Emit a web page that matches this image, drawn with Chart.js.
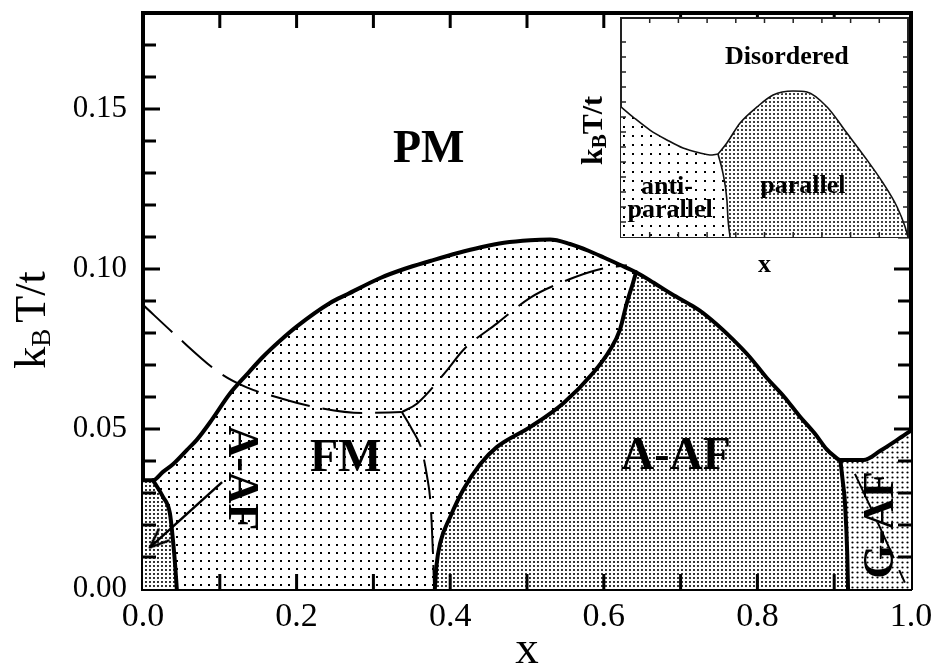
<!DOCTYPE html>
<html><head><meta charset="utf-8">
<script src="https://cdn.jsdelivr.net/npm/chart.js@4.4.1/dist/chart.umd.min.js"></script>
<style>
html,body{margin:0;padding:0;background:#fff;}
#wrap{position:relative;width:935px;height:669px;overflow:hidden;}
#main{position:absolute;left:0;top:0;}
#inset{position:absolute;left:560px;top:0;}
</style></head><body>
<div id="wrap">
<canvas id="main" width="935" height="669"></canvas>
<canvas id="inset" width="375" height="290"></canvas>
</div>
<script>
// ================= DATA (main phase diagram: x vs k_B T / t) =================
// PM phase boundary (upper envelope of ordered phases)
const pmX = [0, 0.013, 0.026, 0.039, 0.057, 0.07, 0.09, 0.113, 0.135, 0.156, 0.178, 0.2, 0.243, 0.266, 0.309, 0.34, 0.374, 0.41, 0.44, 0.47, 0.504, 0.53, 0.556, 0.58, 0.6, 0.62, 0.642, 0.665, 0.686, 0.708, 0.725, 0.748, 0.768, 0.79, 0.812, 0.835, 0.855, 0.875, 0.89, 0.9, 0.908, 0.938, 0.96, 0.982, 1.0];
const pmY = [0.034, 0.034, 0.0366, 0.039, 0.0434, 0.0466, 0.053, 0.061, 0.067, 0.0725, 0.0775, 0.082, 0.0893, 0.0921, 0.0972, 0.1, 0.1025, 0.105, 0.1068, 0.1082, 0.109, 0.1092, 0.1078, 0.1057, 0.1036, 0.1014, 0.099, 0.0957, 0.0925, 0.0895, 0.087, 0.0825, 0.078, 0.0725, 0.066, 0.06, 0.054, 0.0485, 0.0437, 0.0415, 0.0403, 0.0403, 0.0432, 0.0466, 0.0495];
// FM / A-AF boundary (from bottom up to the triple point)
const aafX = [0.38, 0.382, 0.387, 0.4, 0.417, 0.439, 0.461, 0.504, 0.547, 0.586, 0.608, 0.621, 0.63, 0.638, 0.642];
const aafY = [0, 0.007, 0.0144, 0.0225, 0.031, 0.039, 0.0444, 0.0506, 0.058, 0.0675, 0.0747, 0.081, 0.0894, 0.0956, 0.099];
// A-AF / G-AF boundary
const gafX = [0.908, 0.911, 0.914, 0.917, 0.918];
const gafY = [0.0403, 0.034, 0.027, 0.011, 0];
// small A-AF pocket near x = 0
const leftX = [0.013, 0.026, 0.035, 0.039, 0.042, 0.044];
const leftY = [0.034, 0.0288, 0.0237, 0.0153, 0.007, 0];
// dashed (metastable) lines
const dashAX = [0, 0.044, 0.1, 0.135, 0.178, 0.221, 0.286, 0.337];
const dashAY = [0.0888, 0.079, 0.0675, 0.063, 0.0597, 0.057, 0.055, 0.0553];
const dashBX = [0.337, 0.357, 0.396, 0.417, 0.461, 0.504, 0.547, 0.591, 0.63];
const dashBY = [0.0553, 0.058, 0.0684, 0.0747, 0.083, 0.091, 0.096, 0.0997, 0.1012];
const dashCX = [0.337, 0.35, 0.363, 0.37, 0.374, 0.376, 0.378, 0.379];
const dashCY = [0.0553, 0.05, 0.0434, 0.035, 0.028, 0.02, 0.008, 0];
const dashDX = [0.927, 0.96, 0.992];
const dashDY = [0.036, 0.019, 0.002];
// arrow pointing into the small A-AF pocket (tail -> tip)
const arrowX = [0.103, 0.009];
const arrowY = [0.0334, 0.013];
// region names
const regionNames = ['PM', 'FM', 'A-AF', 'A-AF', 'G-AF'];

// ================= DATA (inset) =================
const insDisX = [0, 0.042, 0.101, 0.16, 0.216, 0.275, 0.31, 0.338];
const insDisY = [0.0867, 0.080, 0.0713, 0.0647, 0.0593, 0.056, 0.0547, 0.0553];
const insDomeX = [0.338, 0.369, 0.415, 0.474, 0.53, 0.6, 0.648, 0.718, 0.787, 0.857, 0.913, 0.962, 0.99, 1.0];
const insDomeY = [0.0553, 0.0627, 0.076, 0.0867, 0.0947, 0.0973, 0.0967, 0.0867, 0.0693, 0.0514, 0.036, 0.02, 0.0067, 0];
const insBndX = [0.338, 0.355, 0.369, 0.373, 0.38];
const insBndY = [0.0553, 0.0427, 0.0247, 0.0114, 0];
const insetNames = ['Disordered', 'anti-', 'parallel', 'parallel'];

// ================= helpers =================
const pts = (xs, ys) => xs.map((x, i) => ({x: x, y: ys[i]}));
const FAM = '"Liberation Serif", "Times New Roman", serif';

function dots(step, size, round) {
  const c = document.createElement('canvas');
  c.width = step; c.height = step;
  const g = c.getContext('2d');
  g.fillStyle = '#fff'; g.fillRect(0, 0, step, step);
  g.fillStyle = '#000';
  if (round) { g.beginPath(); g.arc(step / 2, step / 2, size / 2, 0, 2 * Math.PI); g.fill(); }
  else g.fillRect(0, 0, size, size);
  return g.createPattern(c, 'repeat');
}
function arrowHead(len, halfDeg) {
  const S = Math.ceil(2 * len + 6);
  const c = document.createElement('canvas'); c.width = S; c.height = S;
  const g = c.getContext('2d');
  const h = halfDeg * Math.PI / 180, cx = S / 2, cy = S / 2;
  g.strokeStyle = '#000'; g.lineWidth = 2.5; g.lineCap = 'round'; g.lineJoin = 'round';
  g.beginPath();
  g.moveTo(cx - len * Math.sin(h), cy + len * Math.cos(h));
  g.lineTo(cx, cy);
  g.lineTo(cx + len * Math.sin(h), cy + len * Math.cos(h));
  g.stroke();
  return c;
}
const noPad = (s) => { s.paddingTop = 0; s.paddingBottom = 0; s.paddingLeft = 0; s.paddingRight = 0; };

const innerTicks = {
  id: 'innerTicks',
  afterDraw(chart, args, o) {
    const {ctx, chartArea: a} = chart;
    const xs = chart.scales.x, ys = chart.scales.y;
    ctx.save(); ctx.strokeStyle = o.color; ctx.lineWidth = o.width; ctx.lineCap = 'butt';
    ctx.beginPath();
    for (const t of xs.ticks) {
      const p = xs.getPixelForValue(t.value);
      if (p <= a.left + 2 || p >= a.right - 2) continue;
      ctx.moveTo(p, a.bottom); ctx.lineTo(p, a.bottom - o.xLen);
      ctx.moveTo(p, a.top); ctx.lineTo(p, a.top + o.xLen);
    }
    for (const t of ys.ticks) {
      const p = ys.getPixelForValue(t.value);
      if (p >= a.bottom - 2 || p <= a.top + 2) continue;
      const r = t.value / o.yMajorStep;
      const L = Math.abs(r - Math.round(r)) < 1e-6 ? o.yMajorLen : o.yLen;
      ctx.moveTo(a.left, p); ctx.lineTo(a.left + L, p);
      ctx.moveTo(a.right, p); ctx.lineTo(a.right - L, p);
    }
    ctx.stroke(); ctx.restore();
  }
};

const textLabels = {
  id: 'textLabels',
  afterDraw(chart, args, o) {
    const {ctx} = chart; const xs = chart.scales.x, ys = chart.scales.y;
    for (const L of o.items) {
      ctx.save();
      ctx.translate(xs.getPixelForValue(L.x), ys.getPixelForValue(L.y));
      ctx.rotate((L.rot || 0) * Math.PI / 180);
      ctx.font = 'bold ' + L.size + 'px ' + FAM;
      ctx.fillStyle = '#000'; ctx.textAlign = 'center'; ctx.textBaseline = 'middle';
      ctx.fillText(L.text, 0, 0);
      ctx.restore();
    }
  }
};

function drawKBT(ctx, cx, cy, size, weight, rest, gap, subScale, subShift) {
  const big = weight + ' ' + size + 'px ' + FAM;
  const small = weight + ' ' + Math.round(size * subScale) + 'px ' + FAM;
  ctx.save(); ctx.translate(cx, cy); ctx.rotate(-Math.PI / 2);
  ctx.fillStyle = '#000'; ctx.textBaseline = 'alphabetic'; ctx.textAlign = 'left';
  ctx.font = big; const wk = ctx.measureText('k').width; const wr = ctx.measureText(rest).width;
  ctx.font = small; const wb = ctx.measureText('B').width;
  let x = -(wk + wb + gap + wr) / 2;
  const base = size * 0.33;
  ctx.font = big; ctx.fillText('k', x, base); x += wk;
  ctx.font = small; ctx.fillText('B', x, base + size * subShift); x += wb + gap;
  ctx.font = big; ctx.fillText(rest, x, base);
  ctx.restore();
}

const mainYTitle = {
  id: 'mainYTitle',
  afterDraw(chart) {
    const a = chart.chartArea;
    drawKBT(chart.ctx, a.left - 113, 320, 44, 'normal', 'T/t', 6, 0.62, 0.12);
  }
};

// ================= main chart =================
const sparse = dots(8, 2, false), dense = dots(4, 2.1, true), medium = dots(5, 2.2, true);
const iJ = pmX.indexOf(aafX[aafX.length - 1]);
const iG = pmX.indexOf(gafX[0]);
const pmPts = pts(pmX, pmY);

const polyAAF = pts(aafX, aafY).concat(pmPts.slice(iJ + 1, iG + 1), pts(gafX, gafY).slice(1));
const polyGAF = pmPts.slice(iG).concat([{x: 1, y: 0}], pts(gafX, gafY).reverse());
const polyLeft = [{x: 0, y: 0}, pmPts[0]].concat(pts(leftX, leftY));
const polyFM = [{x: 0, y: 0}].concat(pmPts, [{x: 1, y: 0}]);

const poly = (data, pattern) => ({data, fill: 'shape', backgroundColor: pattern, borderWidth: 0, borderColor: 'transparent', pointRadius: 0, showLine: true, tension: 0});
const solid = (data) => ({data, fill: false, borderColor: '#000', borderWidth: 4, borderJoinStyle: 'round', borderCapStyle: 'round', pointRadius: 0, showLine: true, cubicInterpolationMode: 'monotone'});
const dashed = (data) => ({data, fill: false, borderColor: '#000', borderWidth: 2, borderDash: [40, 13], pointRadius: 0, showLine: true, cubicInterpolationMode: 'monotone'});

const head = arrowHead(20, 22);

// lines first (drawn last, on top); polygons at the end (drawn first, underneath)
new Chart(document.getElementById('main'), {
  type: 'scatter',
  data: {datasets: [
    {data: pts(arrowX, arrowY), fill: false, borderColor: '#000', borderWidth: 2.5, showLine: true,
     pointRadius: [0, 5], pointStyle: (c) => c.dataIndex === 1 ? head : false, pointRotation: 228},
    solid(pmPts),
    solid(pts(aafX, aafY)),
    solid(pts(gafX, gafY)),
    solid(pts(leftX, leftY)),
    dashed(pts(dashAX, dashAY)),
    dashed(pts(dashBX, dashBY)),
    dashed(pts(dashCX, dashCY)),
    dashed(pts(dashDX, dashDY)),
    poly(polyAAF, dense),
    poly(polyLeft, dense),
    poly(polyGAF, medium),
    poly(polyFM, sparse)
  ]},
  options: {
    responsive: false, animation: false, events: [],
    layout: {padding: {left: 0, right: 24, top: 13, bottom: 0}},
    plugins: {
      legend: {display: false}, tooltip: {enabled: false},
      innerTicks: {color: '#000', width: 3, xLen: 15, yLen: 13, yMajorLen: 17, yMajorStep: 0.05},
      textLabels: {items: [
        {text: regionNames[0], x: 0.372, y: 0.137, size: 46},
        {text: regionNames[1], x: 0.264, y: 0.0406, size: 46},
        {text: regionNames[2], x: 0.694, y: 0.0413, size: 46},
        {text: regionNames[3], x: 0.127, y: 0.0347, size: 44, rot: 90},
        {text: regionNames[4], x: 0.962, y: 0.02, size: 44, rot: -90}
      ]}
    },
    scales: {
      x: {type: 'linear', position: 'bottom', min: 0, max: 1,
          afterFit: (s) => { s.height = 80; noPad(s); },
          grid: {display: false, drawTicks: false},
          border: {display: true, width: 4, color: '#000'},
          ticks: {stepSize: 0.1, autoSkip: false, maxRotation: 0, padding: 8, color: '#000',
                  font: {family: FAM, size: 34},
                  callback: (v) => Math.abs(v * 5 - Math.round(v * 5)) < 1e-6 ? v.toFixed(1) : ''},
          title: {display: true, text: 'x', color: '#000', font: {family: FAM, size: 47, lineHeight: 0.8}, padding: {top: 0, bottom: 0}}},
      y: {type: 'linear', position: 'left', min: 0, max: 0.18,
          afterFit: (s) => { s.width = 143; noPad(s); },
          grid: {display: false, drawTicks: false},
          border: {display: true, width: 4, color: '#000'},
          ticks: {stepSize: 0.01, autoSkip: false, padding: 16, color: '#000',
                  font: {family: FAM, size: 31},
                  callback: (v) => Math.abs(v * 20 - Math.round(v * 20)) < 1e-6 ? v.toFixed(2) : ''}},
      x2: {type: 'linear', position: 'top', min: 0, max: 1, afterFit: (s) => { s.height = 0; noPad(s); },
           grid: {display: false, drawTicks: false}, ticks: {display: false},
           border: {display: true, width: 4, color: '#000'}},
      y2: {type: 'linear', position: 'right', min: 0, max: 0.18, afterFit: (s) => { s.width = 0; noPad(s); },
           grid: {display: false, drawTicks: false}, ticks: {display: false},
           border: {display: true, width: 4, color: '#000'}}
    }
  },
  plugins: [innerTicks, textLabels, mainYTitle]
});

// ================= inset chart =================
const insetBg = {
  id: 'insetBg',
  beforeDraw(chart) {
    const a = chart.chartArea, ctx = chart.ctx;
    ctx.save(); ctx.fillStyle = '#fff'; ctx.fillRect(a.left, a.top, a.right - a.left, a.bottom - a.top); ctx.restore();
  }
};
const insetTitles = {
  id: 'insetTitles',
  afterDraw(chart) {
    const a = chart.chartArea, ctx = chart.ctx;
    ctx.save(); ctx.font = 'bold 26px ' + FAM; ctx.fillStyle = '#000';
    ctx.textAlign = 'center'; ctx.textBaseline = 'middle';
    ctx.fillText('x', (a.left + a.right) / 2, a.bottom + 28);
    ctx.restore();
    drawKBT(ctx, a.left - 29, (a.top + a.bottom) / 2 + 3, 30, 'bold', 'T/t', 0, 0.7, 0.14);
  }
};
const iPar = pts(insBndX, insBndY).reverse().concat(pts(insDomeX, insDomeY).slice(1));
const iAnti = [{x: 0, y: 0}].concat(pts(insDisX, insDisY), pts(insBndX, insBndY).slice(1));
const thin = (data) => ({data, fill: false, borderColor: '#111', borderWidth: 1.6, pointRadius: 0, showLine: true, cubicInterpolationMode: 'monotone'});
const insSparse = dots(9, 2, false), insDense = dots(4, 2, true);

new Chart(document.getElementById('inset'), {
  type: 'scatter',
  data: {datasets: [
    thin(pts(insDisX, insDisY)),
    thin(pts(insDomeX, insDomeY)),
    thin(pts(insBndX, insBndY)),
    poly(iPar, insDense),
    poly(iAnti, insSparse)
  ]},
  options: {
    responsive: false, animation: false, events: [],
    layout: {padding: {left: 61, right: 27, top: 18, bottom: 53}},
    plugins: {
      legend: {display: false}, tooltip: {enabled: false},
      innerTicks: {color: '#222', width: 1.5, xLen: 5, yLen: 5, yMajorLen: 5, yMajorStep: 0.01},
      textLabels: {items: [
        {text: insetNames[0], x: 0.578, y: 0.12, size: 26},
        {text: insetNames[1], x: 0.16, y: 0.033, size: 26},
        {text: insetNames[2], x: 0.171, y: 0.0175, size: 26},
        {text: insetNames[3], x: 0.634, y: 0.034, size: 26}
      ]}
    },
    scales: {
      x: {type: 'linear', position: 'bottom', min: 0, max: 1, afterFit: (s) => { s.height = 0; noPad(s); },
          grid: {display: false, drawTicks: false}, ticks: {display: false, stepSize: 0.1, autoSkip: false},
          border: {display: true, width: 2, color: '#222'}},
      y: {type: 'linear', position: 'left', min: 0, max: 0.146, afterFit: (s) => { s.width = 0; noPad(s); },
          grid: {display: false, drawTicks: false}, ticks: {display: false, stepSize: 0.01, autoSkip: false},
          border: {display: true, width: 2, color: '#222'}},
      x2: {type: 'linear', position: 'top', min: 0, max: 1, afterFit: (s) => { s.height = 0; noPad(s); },
           grid: {display: false, drawTicks: false}, ticks: {display: false},
           border: {display: true, width: 2, color: '#222'}},
      y2: {type: 'linear', position: 'right', min: 0, max: 0.146, afterFit: (s) => { s.width = 0; noPad(s); },
           grid: {display: false, drawTicks: false}, ticks: {display: false},
           border: {display: true, width: 2, color: '#222'}}
    }
  },
  plugins: [insetBg, innerTicks, textLabels, insetTitles]
});
</script>
</body></html>
